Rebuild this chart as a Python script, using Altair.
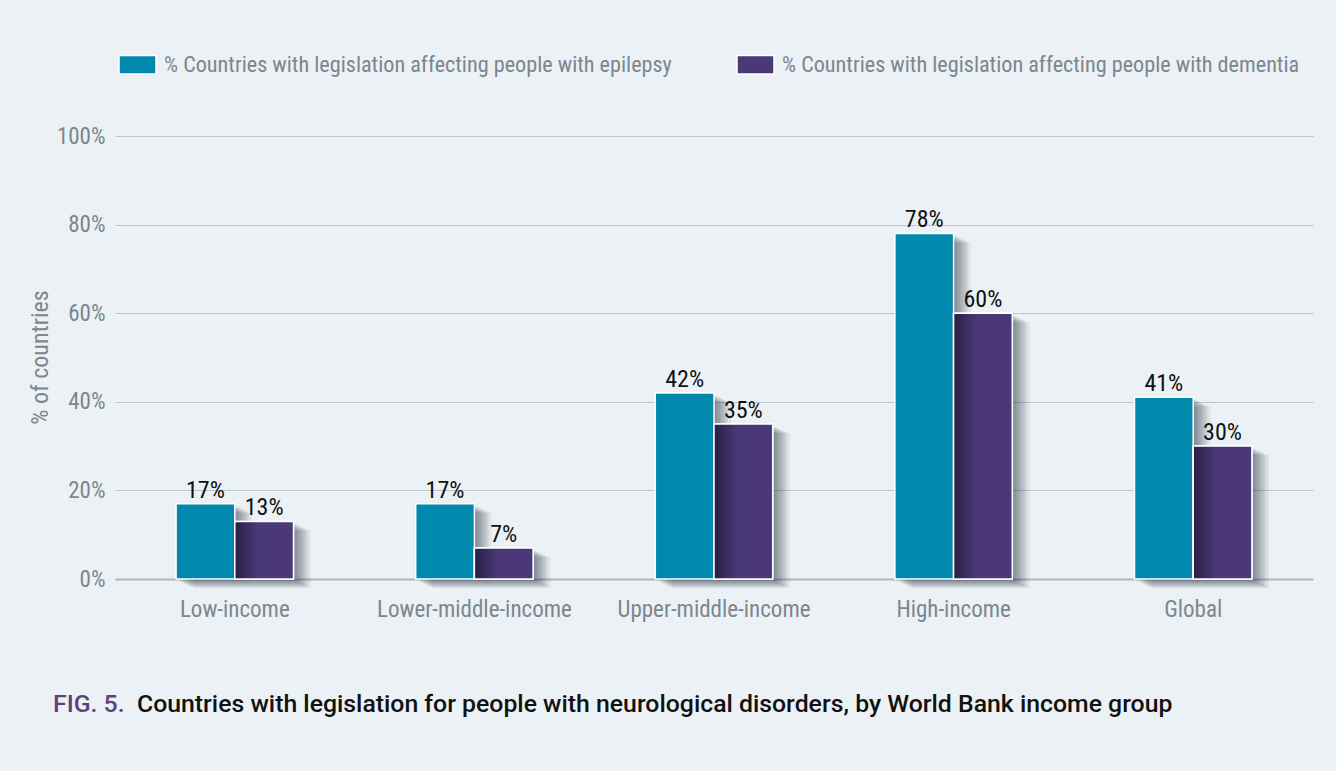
import altair as alt
import pandas as pd

groups = ["Low-income", "Lower-middle-income", "Upper-middle-income", "High-income", "Global"]
series = [
    "% Countries with legislation affecting people with epilepsy",
    "% Countries with legislation affecting people with dementia",
]
epilepsy = [17, 17, 42, 78, 41]
dementia = [13, 7, 35, 60, 30]
colors = ["#0088ad", "#4a3878"]
y_ticks = [0, 20, 40, 60, 80, 100]
caption_fig = "FIG. 5."
caption_text = "Countries with legislation for people with neurological disorders, by World Bank income group"

rows = []
for g, e, d in zip(groups, epilepsy, dementia):
    rows.append({"group": g, "series": series[0], "value": e})
    rows.append({"group": g, "series": series[1], "value": d})
df = pd.DataFrame(rows)

NARROW = "Roboto Condensed, Liberation Sans Narrow, DejaVu Sans Condensed, sans-serif"
CAPFONT = "Roboto, Liberation Sans, Arial, sans-serif"
GRAY = "#7b868e"

W, H = 1198, 443
P_IN, P_OUT = 0.51, 0.255
STEP = W / (len(groups) - P_IN + 2 * P_OUT)
BAND = STEP * (1 - P_IN)

x_enc = alt.X("group:N", sort=groups,
              scale=alt.Scale(paddingInner=P_IN, paddingOuter=P_OUT),
              axis=alt.Axis(title=None, labelAngle=0, labelFont=NARROW, labelFontSize=23,
                            labelColor=GRAY, labelPadding=19, labelLimit=400, ticks=False, domain=True,
                            domainColor="#a9b7c1", domainWidth=2))


def xoff(dx=0):
    return alt.XOffset("series:N", sort=series,
                       scale=alt.Scale(type="band", domain=series, paddingInner=0, paddingOuter=0,
                                       range=[dx, BAND + dx]))


y_enc = alt.Y("value:Q", scale=alt.Scale(domain=[0, 100], nice=False),
              axis=alt.Axis(values=y_ticks, labelExpr="datum.value + '%'", title="% of countries",
                            titleFont=NARROW, titleFontSize=24, titleColor=GRAY, titleFontWeight="normal",
                            titleX=-75, titleY=221, titleAlign="center", titleBaseline="middle",
                            labelFont=NARROW, labelFontSize=23, labelColor=GRAY, labelPadding=10,
                            ticks=False, domain=False, grid=True, gridColor="#b9c6ce", gridWidth=1.2))

base = alt.Chart(df)

shadows = []
for dx, dy in [(2, 2), (4, 3), (6, 4), (8, 5), (10, 6), (12, 7), (14, 8), (17, 9)]:
    shadows.append(
        base.mark_bar(color="#1a2a36", opacity=0.08, yOffset=dy).encode(
            x=x_enc, xOffset=xoff(dx), y=y_enc)
    )

bars = base.mark_bar(stroke="white", strokeWidth=1.5).encode(
    x=x_enc, xOffset=xoff(), y=y_enc,
    color=alt.Color("series:N", sort=series, scale=alt.Scale(domain=series, range=colors),
                    legend=alt.Legend(title=None, orient="none", direction="horizontal",
                                      legendX=3, legendY=-91,
                                      symbolType="M-1,-0.5L1,-0.5L1,0.5L-1,0.5Z",
                                      symbolSize=1369, symbolStrokeColor="white", symbolStrokeWidth=1.5,
                                      symbolOpacity=1, labelFont=NARROW, labelFontSize=22.2,
                                      labelColor=GRAY, labelOffset=7, columnPadding=62,
                                      labelLimit=800)),
)

grad = alt.LinearGradient(
    gradient="linear", x1=0, x2=1, y1=0, y2=0,
    stops=[alt.GradientStop(offset=0, color="#2a1f45"),
           alt.GradientStop(offset=0.4, color="#4a3878"),
           alt.GradientStop(offset=1, color="#4a3878")],
)
dem_overlay = base.transform_filter(alt.datum.series == series[1]).mark_bar(
    color=grad, stroke="white", strokeWidth=1.5).encode(x=x_enc, xOffset=xoff(), y=y_enc)

labels = base.transform_calculate(label="datum.value + '%'").mark_text(
    baseline="bottom", dy=-1, font=NARROW, fontSize=24, color="#111111").encode(
    x=x_enc, xOffset=xoff(), y=y_enc, text="label:N")

cap1 = alt.Chart(pd.DataFrame({"t": [caption_fig]})).mark_text(
    align="left", baseline="middle", font=CAPFONT, fontWeight=500,
    fontSize=24.8, color="#5e4379").encode(x=alt.value(-62), y=alt.value(569), text="t:N")
cap2 = alt.Chart(pd.DataFrame({"t": [caption_text]})).mark_text(
    align="left", baseline="middle", font=CAPFONT, fontWeight=500,
    fontSize=24.8, color="#111111").encode(x=alt.value(22), y=alt.value(569), text="t:N")

chart = alt.layer(*shadows, bars, dem_overlay, labels, cap1, cap2).resolve_scale(
    xOffset="independent"
).properties(
    width=W, height=H,
    background="#ecf1f5",
    padding={"left": 115, "top": 136, "right": 23, "bottom": 192},
    autosize=alt.AutoSizeParams(type="none"),
).configure_view(stroke=None)

chart.save("out.html", embed_options={"renderer": "svg", "actions": False})
